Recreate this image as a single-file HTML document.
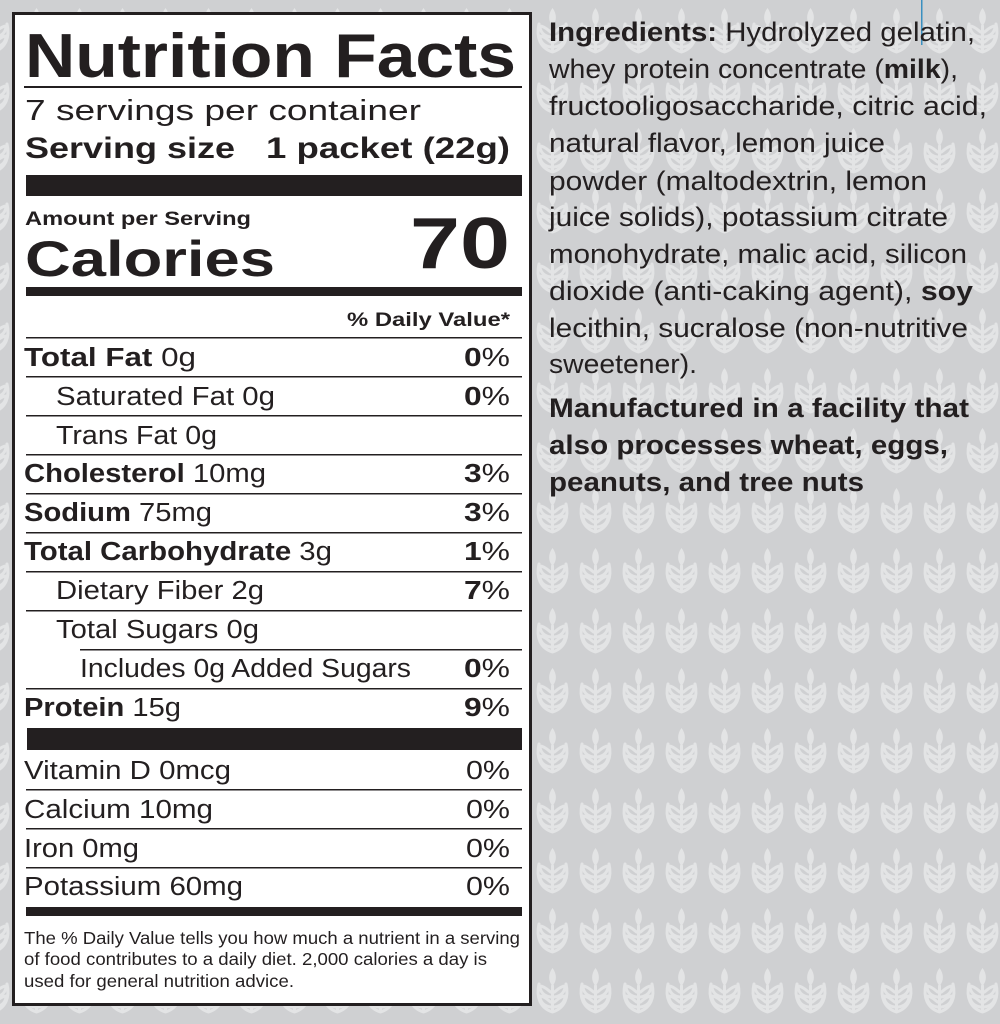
<!DOCTYPE html>
<html><head><meta charset="utf-8"><style>
html,body{margin:0;padding:0;width:1000px;height:1024px;overflow:hidden;background:#cfd0d2}
svg{display:block}
</style></head><body>
<svg width="1000" height="1024" viewBox="0 0 1000 1024" xmlns="http://www.w3.org/2000/svg" font-family="Liberation Sans, Arial, sans-serif">
<defs>
<pattern id="w" x="531" y="4" width="43" height="60" patternUnits="userSpaceOnUse">
 <g fill="none" stroke="#e3e4e5" stroke-width="3" stroke-linecap="round" stroke-linejoin="round">
  <path d="M21.5 4 C17 10 17 17 21.5 22 C26 17 26 10 21.5 4Z" fill="#e3e4e5" stroke="none"/>
  <path d="M21.5 22 L21.5 47"/>
  <path d="M19.5 28 C15 24 11 22 9 22 C9 28 13 32 19.5 33"/>
  <path d="M23.5 28 C28 24 32 22 34 22 C34 28 30 32 23.5 33"/>
  <path d="M19.5 38 C15 34 11 32 9 32 C9 38 13 42 19.5 43"/>
  <path d="M23.5 38 C28 34 32 32 34 32 C34 38 30 42 23.5 43"/>
  <path d="M8 20 C5 33 9 44 21.5 48 C34 44 38 33 35 20"/>
 </g>
</pattern>
</defs>
<rect width="1000" height="1024" fill="#cfd0d2"/>
<rect width="1000" height="1024" fill="url(#w)"/>
<rect x="921" y="0" width="1.5" height="45" fill="#3a8fc0"/>
<!-- panel -->
<rect x="13.5" y="13.5" width="517" height="991" fill="#fff" stroke="#231f20" stroke-width="3"/>
<g fill="#231f20">
<text x="25" y="77" font-size="62" font-weight="bold" textLength="491" lengthAdjust="spacingAndGlyphs">Nutrition Facts</text>
<rect x="24" y="86" width="498" height="2"/>
<text x="25" y="120" font-size="29" textLength="396" lengthAdjust="spacingAndGlyphs">7 servings per container</text>
<text x="25" y="158" font-size="30" font-weight="bold" textLength="210" lengthAdjust="spacingAndGlyphs">Serving size</text>
<text x="510" y="158" font-size="30" font-weight="bold" text-anchor="end" textLength="244" lengthAdjust="spacingAndGlyphs">1 packet (22g)</text>
<rect x="26" y="175" width="496" height="21"/>
<text x="25" y="225" font-size="19" font-weight="bold" textLength="226" lengthAdjust="spacingAndGlyphs">Amount per Serving</text>
<text x="25" y="276" font-size="50" font-weight="bold" textLength="250" lengthAdjust="spacingAndGlyphs">Calories</text>
<text x="510" y="268" font-size="72" font-weight="bold" text-anchor="end" textLength="100" lengthAdjust="spacingAndGlyphs">70</text>
<rect x="26" y="287" width="496" height="9"/>
<text x="510" y="326" font-size="19" font-weight="bold" text-anchor="end" textLength="163" lengthAdjust="spacingAndGlyphs">% Daily Value*</text>
<rect x="26" y="337" width="496" height="1.5"/>
<g font-size="25.5" lengthAdjust="spacingAndGlyphs">
<text x="24" y="366" textLength="172" lengthAdjust="spacingAndGlyphs"><tspan font-weight="bold">Total Fat</tspan> 0g</text>
<text x="510" y="366" text-anchor="end" textLength="46" lengthAdjust="spacingAndGlyphs"><tspan font-weight="bold">0</tspan>%</text>
<rect x="26" y="376" width="496" height="1.5"/>
<text x="56" y="405" textLength="219" lengthAdjust="spacingAndGlyphs">Saturated Fat 0g</text>
<text x="510" y="405" text-anchor="end" textLength="46" lengthAdjust="spacingAndGlyphs"><tspan font-weight="bold">0</tspan>%</text>
<rect x="26" y="415" width="496" height="1.5"/>
<text x="56" y="444" textLength="161" lengthAdjust="spacingAndGlyphs">Trans Fat 0g</text>
<rect x="26" y="454" width="496" height="1.5"/>
<text x="24" y="482" textLength="242" lengthAdjust="spacingAndGlyphs"><tspan font-weight="bold">Cholesterol</tspan> 10mg</text>
<text x="510" y="482" text-anchor="end" textLength="46" lengthAdjust="spacingAndGlyphs"><tspan font-weight="bold">3</tspan>%</text>
<rect x="26" y="493" width="496" height="1.5"/>
<text x="24" y="521" textLength="188" lengthAdjust="spacingAndGlyphs"><tspan font-weight="bold">Sodium</tspan> 75mg</text>
<text x="510" y="521" text-anchor="end" textLength="46" lengthAdjust="spacingAndGlyphs"><tspan font-weight="bold">3</tspan>%</text>
<rect x="26" y="532" width="496" height="1.5"/>
<text x="24" y="560" textLength="308" lengthAdjust="spacingAndGlyphs"><tspan font-weight="bold">Total Carbohydrate</tspan> 3g</text>
<text x="510" y="560" text-anchor="end" textLength="46" lengthAdjust="spacingAndGlyphs"><tspan font-weight="bold">1</tspan>%</text>
<rect x="26" y="571" width="496" height="1.5"/>
<text x="56" y="599" textLength="208" lengthAdjust="spacingAndGlyphs">Dietary Fiber 2g</text>
<text x="510" y="599" text-anchor="end" textLength="46" lengthAdjust="spacingAndGlyphs"><tspan font-weight="bold">7</tspan>%</text>
<rect x="26" y="610" width="496" height="1.5"/>
<text x="56" y="638" textLength="203" lengthAdjust="spacingAndGlyphs">Total Sugars 0g</text>
<rect x="80" y="649" width="442" height="1.5"/>
<text x="80" y="677" textLength="331" lengthAdjust="spacingAndGlyphs">Includes 0g Added Sugars</text>
<text x="510" y="677" text-anchor="end" textLength="46" lengthAdjust="spacingAndGlyphs"><tspan font-weight="bold">0</tspan>%</text>
<rect x="26" y="688" width="496" height="1.5"/>
<text x="24" y="716" textLength="157" lengthAdjust="spacingAndGlyphs"><tspan font-weight="bold">Protein</tspan> 15g</text>
<text x="510" y="716" text-anchor="end" textLength="46" lengthAdjust="spacingAndGlyphs"><tspan font-weight="bold">9</tspan>%</text>
<rect x="27" y="728" width="495" height="22"/>
<text x="24" y="779" textLength="207" lengthAdjust="spacingAndGlyphs">Vitamin D 0mcg</text>
<text x="510" y="779" text-anchor="end" textLength="44" lengthAdjust="spacingAndGlyphs">0%</text>
<rect x="26" y="789" width="496" height="1.5"/>
<text x="24" y="818" textLength="189" lengthAdjust="spacingAndGlyphs">Calcium 10mg</text>
<text x="510" y="818" text-anchor="end" textLength="44" lengthAdjust="spacingAndGlyphs">0%</text>
<rect x="26" y="828" width="496" height="1.5"/>
<text x="24" y="857" textLength="115" lengthAdjust="spacingAndGlyphs">Iron 0mg</text>
<text x="510" y="857" text-anchor="end" textLength="44" lengthAdjust="spacingAndGlyphs">0%</text>
<rect x="26" y="867" width="496" height="1.5"/>
<text x="24" y="895" textLength="219" lengthAdjust="spacingAndGlyphs">Potassium 60mg</text>
<text x="510" y="895" text-anchor="end" textLength="44" lengthAdjust="spacingAndGlyphs">0%</text>
</g>
<rect x="26" y="907" width="496" height="9"/>
<g font-size="17.5">
<text x="24" y="944" textLength="496" lengthAdjust="spacingAndGlyphs">The % Daily Value tells you how much a nutrient in a serving</text>
<text x="24" y="965" textLength="463" lengthAdjust="spacingAndGlyphs">of food contributes to a daily diet. 2,000 calories a day is</text>
<text x="24" y="987" textLength="270" lengthAdjust="spacingAndGlyphs">used for general nutrition advice.</text>
</g>
</g>
<!-- ingredients -->
<g fill="#231f20" font-size="26.5">
<text x="549" y="41" textLength="426" lengthAdjust="spacingAndGlyphs"><tspan font-weight="bold">Ingredients:</tspan> Hydrolyzed gelatin,</text>
<text x="549" y="78" textLength="409" lengthAdjust="spacingAndGlyphs">whey protein concentrate (<tspan font-weight="bold">milk</tspan>),</text>
<text x="549" y="115" textLength="438" lengthAdjust="spacingAndGlyphs">fructooligosaccharide, citric acid,</text>
<text x="549" y="152" textLength="336" lengthAdjust="spacingAndGlyphs">natural flavor, lemon juice</text>
<text x="549" y="190" textLength="378" lengthAdjust="spacingAndGlyphs">powder (maltodextrin, lemon</text>
<text x="549" y="226" textLength="399" lengthAdjust="spacingAndGlyphs">juice solids), potassium citrate</text>
<text x="549" y="263" textLength="418" lengthAdjust="spacingAndGlyphs">monohydrate, malic acid, silicon</text>
<text x="549" y="300" textLength="424" lengthAdjust="spacingAndGlyphs">dioxide (anti-caking agent), <tspan font-weight="bold">soy</tspan></text>
<text x="549" y="337" textLength="419" lengthAdjust="spacingAndGlyphs">lecithin, sucralose (non-nutritive</text>
<text x="549" y="373" textLength="148" lengthAdjust="spacingAndGlyphs">sweetener).</text>
<g font-weight="bold">
<text x="549" y="417" textLength="420" lengthAdjust="spacingAndGlyphs">Manufactured in a facility that</text>
<text x="549" y="454" textLength="399" lengthAdjust="spacingAndGlyphs">also processes wheat, eggs,</text>
<text x="549" y="491" textLength="315" lengthAdjust="spacingAndGlyphs">peanuts, and tree nuts</text>
</g>
</g>
</svg>
</body></html>
